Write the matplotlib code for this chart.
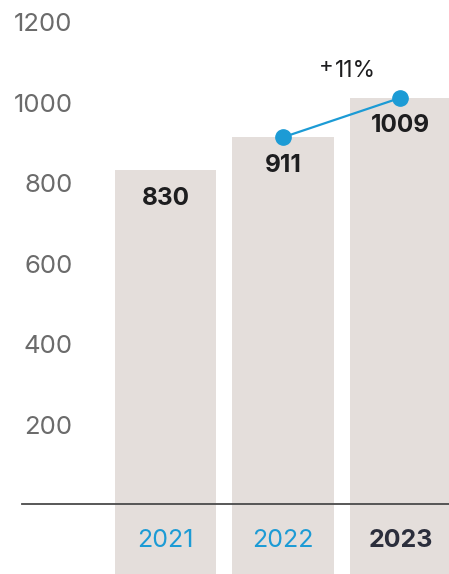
import matplotlib.pyplot as plt
import numpy as np

plt.rcParams['font.family'] = ['Inter', 'DejaVu Sans']

# values per year
years = ['2021', '2022', '2023']
values = [830, 911, 1009]
growth_label = '11%'
yticks = [200, 400, 600, 800, 1000, 1200]

bar_color = '#e4dedb'
blue = '#1c9bd5'
dark = '#1d1d1f'
grey = '#6b6b6b'

fig = plt.figure(figsize=(4.49, 5.74), dpi=100)
ax = fig.add_axes([0, 0, 1, 1])
ax.set_xlim(-1.409, 2.413)
ax.set_ylim(-174, 1252)
ax.axis('off')

x = np.arange(len(years))
bottom = -174
ax.bar(x, np.array(values) - bottom, bottom=bottom, width=0.86,
       color=bar_color, zorder=1)

# baseline
ax.plot([-1.22, 2.413], [0, 0], color='#4a4a4a', lw=1.3, zorder=2)

# y tick labels
for t in yticks:
    ax.text(-0.79, t - 10, str(t), ha='right', va='center', fontsize=18.5,
            color=grey, zorder=3)

# value labels inside bars
for xi, v in zip(x, values):
    ax.text(xi, v - 70, str(v), ha='center', va='center', fontsize=17.5,
            fontweight='bold', color=dark, zorder=3)

# year labels
for xi, yr in zip(x, years):
    last = yr == years[-1]
    ax.text(xi, -91, yr, ha='center', va='center', fontsize=18,
            fontweight='bold' if last else 'normal',
            color='#2b2e3c' if last else blue, zorder=3)

# growth line between the last two years
ax.plot(x[1:], values[1:], color=blue, lw=1.6, marker='o', markersize=11,
        zorder=4)
gx = (x[1] + x[2]) / 2
ax.text(gx - 0.06, 1076, growth_label, ha='left', va='center', fontsize=16.5,
        color=dark, zorder=3)
ax.text(gx - 0.065, 1088, '+', ha='right', va='center', fontsize=16,
        color=dark, zorder=3)

fig.savefig('out.png', dpi=100)
